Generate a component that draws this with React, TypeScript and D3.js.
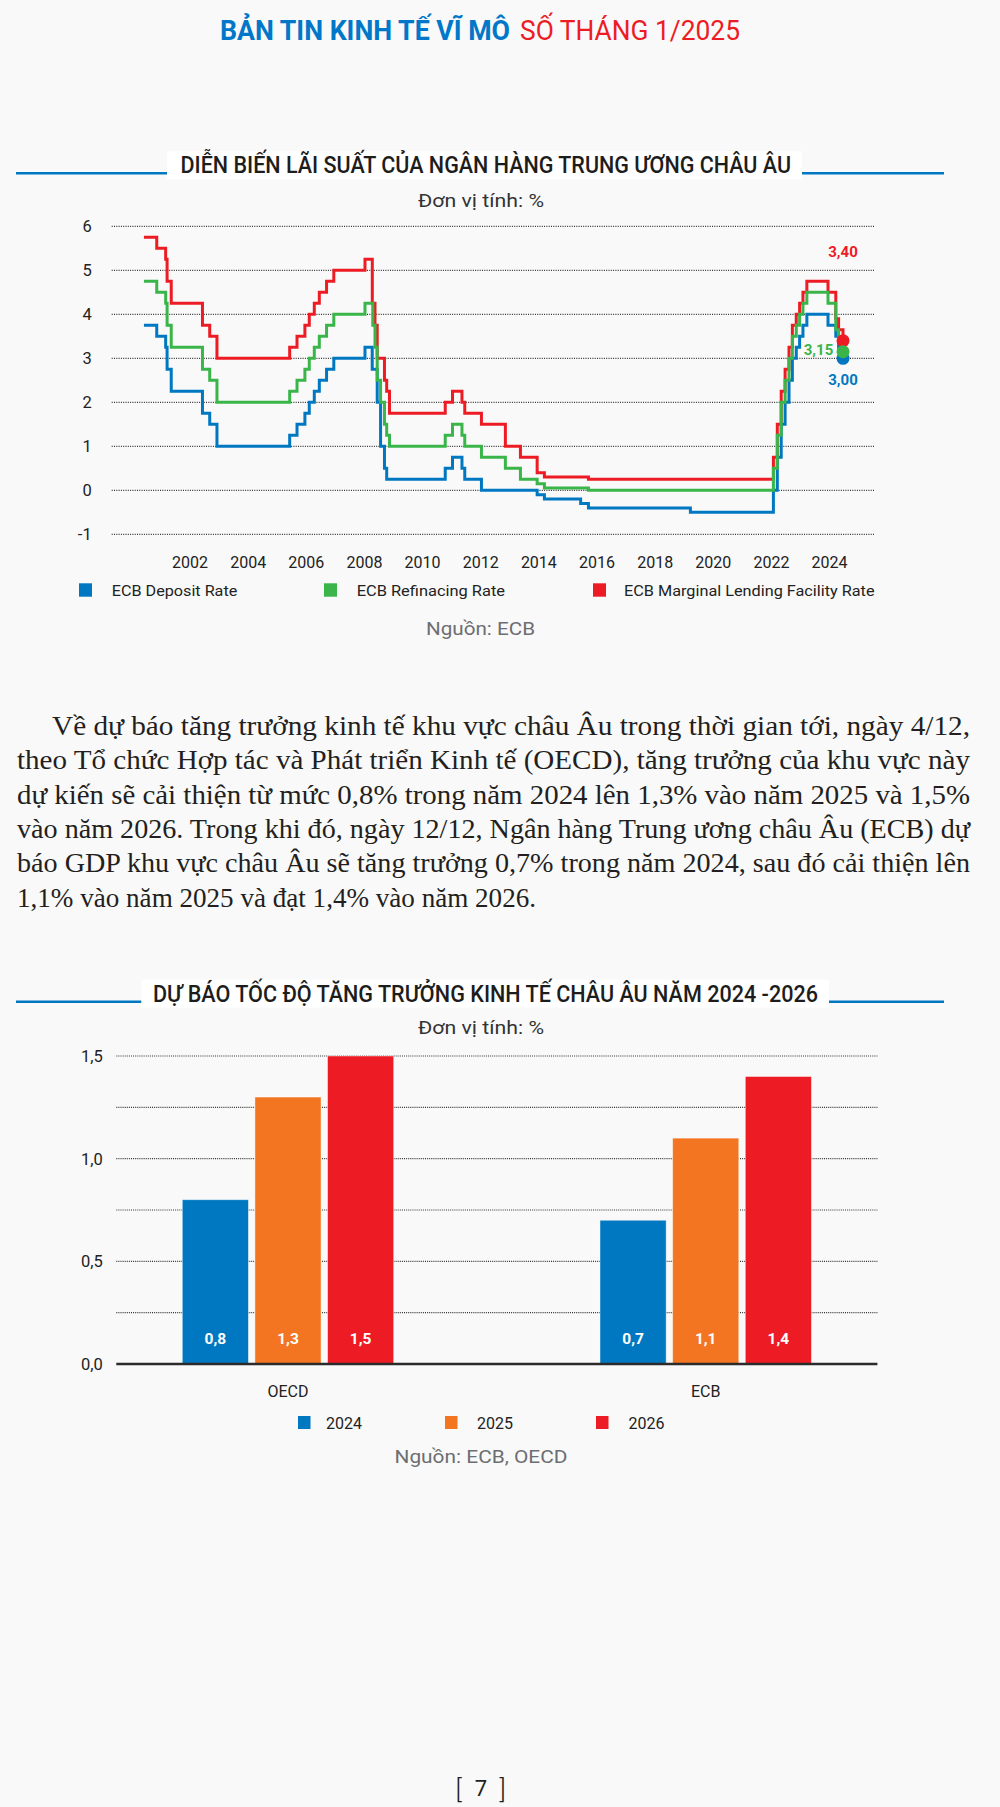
import React from 'react';
import * as d3 from 'd3';

// ---------- Data ----------
const depositRate: [string, number][] = [
  ['2000-12-01', 3.75], ['2001-05-11', 3.5], ['2001-08-31', 3.25], ['2001-09-18', 2.75], ['2001-11-09', 2.25],
  ['2002-12-06', 1.75], ['2003-03-07', 1.5], ['2003-06-06', 1.0], ['2005-12-06', 1.25], ['2006-03-08', 1.5],
  ['2006-06-15', 1.75], ['2006-08-09', 2.0], ['2006-10-11', 2.25], ['2006-12-13', 2.5], ['2007-03-14', 2.75],
  ['2007-06-13', 3.0], ['2008-07-09', 3.25], ['2008-10-08', 2.75], ['2008-12-10', 2.0], ['2009-01-21', 1.0],
  ['2009-03-11', 0.5], ['2009-04-08', 0.25], ['2011-04-13', 0.5], ['2011-07-13', 0.75], ['2011-11-09', 0.5],
  ['2011-12-14', 0.25], ['2012-07-11', 0], ['2014-06-11', -0.1], ['2014-09-10', -0.2], ['2015-12-09', -0.3],
  ['2016-03-16', -0.4], ['2019-09-18', -0.5], ['2022-07-27', 0], ['2022-09-14', 0.75], ['2022-11-02', 1.5],
  ['2022-12-21', 2.0], ['2023-02-08', 2.5], ['2023-03-22', 3.0], ['2023-05-10', 3.25], ['2023-06-21', 3.5],
  ['2023-08-02', 3.75], ['2023-09-20', 4.0], ['2024-06-12', 3.75], ['2024-09-18', 3.5], ['2024-10-23', 3.25],
  ['2024-12-18', 3.0],
];
const refinancingRate: [string, number][] = [
  ['2000-12-01', 4.75], ['2001-05-11', 4.5], ['2001-08-31', 4.25], ['2001-09-18', 3.75], ['2001-11-09', 3.25],
  ['2002-12-06', 2.75], ['2003-03-07', 2.5], ['2003-06-06', 2.0], ['2005-12-06', 2.25], ['2006-03-08', 2.5],
  ['2006-06-15', 2.75], ['2006-08-09', 3.0], ['2006-10-11', 3.25], ['2006-12-13', 3.5], ['2007-03-14', 3.75],
  ['2007-06-13', 4.0], ['2008-07-09', 4.25], ['2008-10-15', 3.75], ['2008-11-12', 3.25], ['2008-12-10', 2.5],
  ['2009-01-21', 2.0], ['2009-03-11', 1.5], ['2009-04-08', 1.25], ['2009-05-13', 1.0], ['2011-04-13', 1.25],
  ['2011-07-13', 1.5], ['2011-11-09', 1.25], ['2011-12-14', 1.0], ['2012-07-11', 0.75], ['2013-05-08', 0.5],
  ['2013-11-13', 0.25], ['2014-06-11', 0.15], ['2014-09-10', 0.05], ['2016-03-16', 0], ['2022-07-27', 0.5],
  ['2022-09-14', 1.25], ['2022-11-02', 2.0], ['2022-12-21', 2.5], ['2023-02-08', 3.0], ['2023-03-22', 3.5],
  ['2023-05-10', 3.75], ['2023-06-21', 4.0], ['2023-08-02', 4.25], ['2023-09-20', 4.5], ['2024-06-12', 4.25],
  ['2024-09-18', 3.65], ['2024-10-23', 3.4], ['2024-12-18', 3.15],
];
const marginalRate: [string, number][] = [
  ['2000-12-01', 5.75], ['2001-05-11', 5.5], ['2001-08-31', 5.25], ['2001-09-18', 4.75], ['2001-11-09', 4.25],
  ['2002-12-06', 3.75], ['2003-03-07', 3.5], ['2003-06-06', 3.0], ['2005-12-06', 3.25], ['2006-03-08', 3.5],
  ['2006-06-15', 3.75], ['2006-08-09', 4.0], ['2006-10-11', 4.25], ['2006-12-13', 4.5], ['2007-03-14', 4.75],
  ['2007-06-13', 5.0], ['2008-07-09', 5.25], ['2008-10-09', 4.25], ['2008-11-12', 3.75], ['2008-12-10', 3.0],
  ['2009-03-11', 2.5], ['2009-04-08', 2.25], ['2009-05-13', 1.75], ['2011-04-13', 2.0], ['2011-07-13', 2.25],
  ['2011-11-09', 2.0], ['2011-12-14', 1.75], ['2012-07-11', 1.5], ['2013-05-08', 1.0], ['2013-11-13', 0.75],
  ['2014-06-11', 0.4], ['2014-09-10', 0.3], ['2016-03-16', 0.25], ['2022-07-27', 0.75], ['2022-09-14', 1.5],
  ['2022-11-02', 2.25], ['2022-12-21', 2.75], ['2023-02-08', 3.25], ['2023-03-22', 3.75], ['2023-05-10', 4.0],
  ['2023-06-21', 4.25], ['2023-08-02', 4.5], ['2023-09-20', 4.75], ['2024-06-12', 4.5], ['2024-09-18', 3.9],
  ['2024-10-23', 3.65], ['2024-12-18', 3.4],
];
const yearTicks = [2002, 2004, 2006, 2008, 2010, 2012, 2014, 2016, 2018, 2020, 2022, 2024];
const rateTicks = [-1, 0, 1, 2, 3, 4, 5, 6];
const rateSeriesNames = ['ECB Deposit Rate', 'ECB Refinacing Rate', 'ECB Marginal Lending Facility Rate'];
const lastLabels = ['3,00', '3,15', '3,40'];

const growthGroups = ['OECD', 'ECB'];
const growthYears = ['2024', '2025', '2026'];
const oecdGrowth = [0.8, 1.3, 1.5];
const ecbGrowth = [0.7, 1.1, 1.4];
const growthTicks = [0, 0.25, 0.5, 0.75, 1.0, 1.25, 1.5];

const paragraphLines = [
  'Về dự báo tăng trưởng kinh tế khu vực châu Âu trong thời gian tới, ngày 4/12,',
  'theo Tổ chức Hợp tác và Phát triển Kinh tế (OECD), tăng trưởng của khu vực này',
  'dự kiến sẽ cải thiện từ mức 0,8% trong năm 2024 lên 1,3% vào năm 2025 và 1,5%',
  'vào năm 2026. Trong khi đó, ngày 12/12, Ngân hàng Trung ương châu Âu (ECB) dự',
  'báo GDP khu vực châu Âu sẽ tăng trưởng 0,7% trong năm 2024, sau đó cải thiện lên',
  '1,1% vào năm 2025 và đạt 1,4% vào năm 2026.',
];

// ---------- Styles ----------
const BLUE = '#0078c1';
const GREEN = '#3ab54a';
const RED = '#ed1c24';
const ORANGE = '#f47521';
const SANS = 'Roboto, "Noto Sans", sans-serif';
const SERIF = '"Liberation Serif", "DejaVu Serif", serif';
const BG = '#f9f9f9';

function decYear(s: string): number {
  const d = new Date(s + 'T00:00:00Z');
  const y = d.getUTCFullYear();
  const start = Date.UTC(y, 0, 1);
  const end = Date.UTC(y + 1, 0, 1);
  return y + (d.getTime() - start) / (end - start);
}

const fmt = (v: number, digits: number) => v.toFixed(digits).replace('.', ',');

function SectionTitle({ text, y, boxX0, boxX1, textX0, textX1 }: any) {
  return (
    <g>
      <line x1={16} x2={boxX0} y1={y} y2={y} stroke={BLUE} strokeWidth={2.5} />
      <line x1={boxX1} x2={944} y1={y} y2={y} stroke={BLUE} strokeWidth={2.5} />
      <rect x={boxX0} y={y - 22} width={boxX1 - boxX0} height={28} fill="#ffffff" />
      <text x={textX0} y={y} textLength={textX1 - textX0} lengthAdjust="spacingAndGlyphs"
        fontFamily={SANS} fontWeight={500} fontSize={23.5} fill="#1d1d1b">{text}</text>
    </g>
  );
}

export default function App() {
  // ----- line chart scales -----
  const x = d3.scaleLinear().domain([2002.5, 2024.5]).range([190, 829.6]);
  const y = d3.scaleLinear().domain([-1, 6]).range([534.3, 226.3]);
  const line = d3.line<[string, number]>()
    .x(d => x(decYear(d[0])))
    .y(d => y(d[1]))
    .curve(d3.curveStepAfter);
  const series = [
    { name: rateSeriesNames[2], data: marginalRate, color: RED, label: lastLabels[2], lx: 0, ly: -84 },
    { name: rateSeriesNames[0], data: depositRate, color: BLUE, label: lastLabels[0], lx: 0, ly: 27 },
    { name: rateSeriesNames[1], data: refinancingRate, color: GREEN, label: lastLabels[1], lx: -24.5, ly: 3 },
  ];

  // ----- bar chart scales -----
  const yb = d3.scaleLinear().domain([0, 1.5]).range([1364, 1056]);
  const xg = d3.scaleBand<string>().domain(growthGroups).range([116.3, 877.4]).paddingInner(0.494).paddingOuter(0.158);
  const xi = d3.scaleBand<string>().domain(growthYears).range([0, xg.bandwidth()]).paddingInner(0.09);
  const barColors = [BLUE, ORANGE, RED];
  const groupValues = [oecdGrowth, ecbGrowth];

  return (
    <svg width={1000} height={1807} style={{ position: 'absolute', left: 0, top: 0, display: 'block' }}>
      <rect x={0} y={0} width={1000} height={1807} fill={BG} />

      {/* Header */}
      <text x={220} y={40} textLength={290} lengthAdjust="spacingAndGlyphs" fontFamily={SANS} fontWeight={700} fontSize={28} fill="#0077c8">BẢN TIN KINH TẾ VĨ MÔ</text>
      <text x={520} y={40} textLength={220} lengthAdjust="spacingAndGlyphs" fontFamily={SANS} fontWeight={400} fontSize={28} fill={RED}>SỐ THÁNG 1/2025</text>

      {/* ===== Chart 1 ===== */}
      <SectionTitle text="DIỄN BIẾN LÃI SUẤT CỦA NGÂN HÀNG TRUNG ƯƠNG CHÂU ÂU" y={173.3} boxX0={167} boxX1={802} textX0={180.5} textX1={791} />
      <text x={418} y={207} textLength={126} lengthAdjust="spacingAndGlyphs" fontFamily={SANS} fontSize={19} fill="#333">Đơn vị tính: %</text>

      {rateTicks.map(t => (
        <g key={'rt' + t}>
          <line x1={111.7} x2={874.3} y1={y(t)} y2={y(t)} stroke="#333" strokeWidth={1.3} strokeDasharray="1 1.3" />
          <text x={91.7} y={y(t) + 6} textAnchor="end" fontFamily={SANS} fontSize={16.5} fill="#222">{t}</text>
        </g>
      ))}
      {yearTicks.map(yr => (
        <text key={'yr' + yr} x={x(yr + 0.5)} y={567.5} textAnchor="middle" fontFamily={SANS} fontSize={16} fill="#222">{yr}</text>
      ))}
      {series.map(s => (
        <path key={s.name} d={line(s.data) || ''} fill="none" stroke={s.color} strokeWidth={3} />
      ))}
      {series.map(s => {
        const last = s.data[s.data.length - 1];
        return <circle key={'c' + s.name} cx={x(decYear(last[0]))} cy={y(last[1])} r={6.5} fill={s.color} />;
      })}
      {series.map(s => {
        const last = s.data[s.data.length - 1];
        return (
          <text key={'l' + s.name} x={x(decYear(last[0])) + s.lx} y={y(last[1]) + s.ly} textAnchor="middle"
            fontFamily={SANS} fontWeight={700} fontSize={15} fill={s.color}>{s.label}</text>
        );
      })}
      {/* legend */}
      {[
        { c: BLUE, n: rateSeriesNames[0], sx: 79, tx: 111.7, w: 125.6 },
        { c: GREEN, n: rateSeriesNames[1], sx: 324, tx: 356.7, w: 148.3 },
        { c: RED, n: rateSeriesNames[2], sx: 593, tx: 624, w: 250.5 },
      ].map(l => (
        <g key={l.n}>
          <rect x={l.sx} y={583.3} width={13} height={13.4} fill={l.c} />
          <text x={l.tx} y={596} textLength={l.w} lengthAdjust="spacingAndGlyphs" fontFamily={SANS} fontSize={15.5} fill="#222">{l.n}</text>
        </g>
      ))}
      <text x={480.5} y={634.5} textAnchor="middle" textLength={109} lengthAdjust="spacingAndGlyphs" fontFamily={SANS} fontSize={18} fill="#6d6e71">Nguồn: ECB</text>

      {/* ===== Paragraph ===== */}
      {paragraphLines.map((ln, i) => {
        const x0 = i === 0 ? 52 : 17;
        const x1 = i === paragraphLines.length - 1 ? 536 : 970;
        return (
          <text key={'p' + i} x={x0} y={735 + i * 34.3} textLength={x1 - x0} lengthAdjust="spacingAndGlyphs"
            fontFamily={SERIF} fontSize={26.5} fill="#231f20">{ln}</text>
        );
      })}

      {/* ===== Chart 2 ===== */}
      <SectionTitle text="DỰ BÁO TỐC ĐỘ TĂNG TRƯỞNG KINH TẾ CHÂU ÂU NĂM 2024 -2026" y={1001.7} boxX0={141.5} boxX1={829} textX0={153} textX1={818} />
      <text x={418} y={1034} textLength={126} lengthAdjust="spacingAndGlyphs" fontFamily={SANS} fontSize={19} fill="#333">Đơn vị tính: %</text>

      {growthTicks.map(t => (
        <g key={'gt' + t}>
          {t > 0 && <line x1={116.3} x2={877.4} y1={yb(t)} y2={yb(t)} stroke="#333" strokeWidth={1.2} strokeDasharray="1 1.1" />}
          {Math.round(t * 100) % 50 === 0 && (
            <text x={102.8} y={yb(t) + 6} textAnchor="end" fontFamily={SANS} fontSize={16.5} fill="#222">{fmt(t, 1)}</text>
          )}
        </g>
      ))}
      {growthGroups.map((g, gi) => (
        <g key={g} transform={`translate(${xg(g)},0)`}>
          {growthYears.map((yr, i) => {
            const v = groupValues[gi][i];
            const bx = xi(yr) as number;
            return (
              <g key={yr}>
                <rect x={bx} y={yb(v)} width={xi.bandwidth()} height={yb(0) - yb(v)} fill={barColors[i]} stroke="#ffffff" strokeOpacity={0.5} strokeWidth={0.8} />
                <text x={bx + xi.bandwidth() / 2} y={1344} textAnchor="middle" fontFamily={SANS} fontWeight={700} fontSize={15.5} fill="#ffffff">{fmt(v, 1)}</text>
              </g>
            );
          })}
          <text x={xg.bandwidth() / 2} y={1396.7} textAnchor="middle" fontFamily={SANS} fontSize={16} fill="#222">{g}</text>
        </g>
      ))}
      <line x1={116.3} x2={877.4} y1={yb(0)} y2={yb(0)} stroke="#2b2b2b" strokeWidth={2.5} />
      {growthYears.map((yr, i) => {
        const sx = [298, 445, 596][i];
        const tx = [326, 477, 628.6][i];
        return (
          <g key={'lg' + yr}>
            <rect x={sx} y={1416} width={12.5} height={13} fill={barColors[i]} />
            <text x={tx} y={1429.3} fontFamily={SANS} fontSize={16} fill="#222">{yr}</text>
          </g>
        );
      })}
      <text x={481} y={1463} textAnchor="middle" textLength={173} lengthAdjust="spacingAndGlyphs" fontFamily={SANS} fontSize={18} fill="#6d6e71">Nguồn: ECB, OECD</text>

      {/* page number */}
      <g fontFamily={SANS} fontWeight={300} fontSize={26} fill="#231f20">
        <text x={458.5} y={1798} textAnchor="middle">[</text>
        <text x={481} y={1796} textAnchor="middle" fontWeight={400} fontSize={22}>7</text>
        <text x={502.5} y={1798} textAnchor="middle">]</text>
      </g>
    </svg>
  );
}
